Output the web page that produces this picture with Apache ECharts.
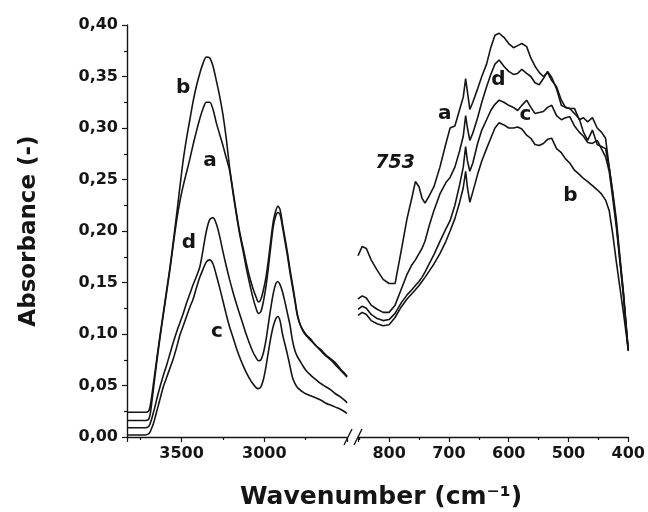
<!DOCTYPE html>
<html>
<head>
<meta charset="utf-8">
<script src="https://cdn.jsdelivr.net/npm/echarts@6/dist/echarts.min.js"></script>
<style>
  html, body { margin: 0; padding: 0; background: #fff; }
  #chart { width: 648px; height: 512px; }
</style>
</head>
<body>
<div id="chart"></div>
<script>
// O-H / C-H stretching region (left panel)
const leftWn = [3830, 3760, 3720, 3700, 3690, 3680, 3670, 3660, 3645, 3630,
  3610, 3590, 3570, 3550, 3530, 3510, 3490, 3470, 3450, 3430,
  3410, 3390, 3370, 3350, 3330, 3310, 3290, 3270, 3250, 3230,
  3210, 3190, 3170, 3150, 3130, 3110, 3090, 3070, 3050, 3035,
  3020, 3005, 2990, 2975, 2960, 2945, 2930, 2918, 2905, 2890,
  2875, 2860, 2845, 2830, 2815, 2800, 2785, 2770, 2750, 2720,
  2690, 2660, 2630, 2600, 2570, 2540, 2510, 2500]
const aLeft = [.016, .016, .016, .017, .022, .034, .047, .060, .079, .097,
  .119, .141, .163, .187, .210, .229, .244, .257, .270, .284,
  .297, .309, .319, .325, .325, .318, .305, .294, .283, .271,
  .259, .238, .217, .198, .182, .165, .150, .136, .125, .120,
  .122, .132, .146, .165, .186, .205, .215, .218, .216, .204,
  .190, .176, .160, .146, .132, .118, .110, .105, .100, .095,
  .089, .084, .079, .075, .070, .065, .060, .058]
const bLeft = [.024, .024, .024, .025, .030, .040, .052, .064, .082, .099,
  .121, .143, .165, .190, .216, .243, .269, .290, .308, .326,
  .341, .353, .363, .369, .368, .360, .346, .331, .313, .290,
  .262, .240, .219, .200, .185, .170, .156, .145, .136, .131,
  .134, .143, .155, .172, .192, .210, .220, .224, .221, .207,
  .193, .179, .163, .149, .134, .119, .110, .104, .099, .094,
  .089, .085, .080, .076, .072, .066, .061, .059]
const cLeft = [.002, .002, .002, .003, .005, .009, .013, .019, .028, .037,
  .049, .058, .067, .076, .087, .099, .108, .117, .126, .134,
  .145, .155, .163, .170, .172, .168, .157, .145, .132, .119,
  .107, .097, .087, .078, .070, .063, .057, .052, .048, .047,
  .049, .056, .068, .083, .097, .108, .115, .117, .113, .100,
  .090, .080, .069, .058, .052, .048, .046, .044, .042, .040,
  .038, .036, .033, .031, .029, .027, .024, .023]
const dLeft = [.009, .009, .009, .010, .013, .018, .024, .030, .040, .049,
  .060, .070, .081, .092, .102, .111, .120, .130, .139, .148,
  .156, .165, .182, .200, .211, .213, .207, .195, .180, .166,
  .153, .141, .130, .120, .110, .100, .091, .083, .077, .074,
  .075, .082, .094, .110, .126, .140, .149, .151, .148, .141,
  .131, .120, .109, .094, .084, .078, .074, .070, .065, .060,
  .056, .052, .049, .046, .042, .039, .035, .033]

// fingerprint region (right panel)
const rightWn = [852, 845, 838, 830, 820, 810, 800, 790, 780, 770,
  762, 756, 750, 745, 740, 733, 725, 715, 705, 698,
  690, 682, 676, 672, 669, 665, 660, 652, 645, 637,
  630, 623, 616, 608, 600, 592, 585, 578, 570, 563,
  556, 549, 542, 535, 528, 520, 512, 505, 498, 490,
  482, 475, 468, 460, 452, 445, 438, 432, 426, 420,
  414, 408, 403, 400]
const aRight = [.176, .185, .183, .172, .162, .153, .149, .149, .180, .212,
  .232, .248, .243, .232, .227, .234, .243, .262, .285, .300,
  .302, .318, .330, .348, .335, .318, .325, .338, .350, .362,
  .378, .390, .392, .388, .382, .378, .380, .382, .379, .368,
  .360, .354, .350, .354, .346, .340, .327, .320, .319, .319,
  .308, .310, .306, .310, .300, .296, .290, .262, .238, .211,
  .175, .140, .105, .084]
const bRight = [.118, .121, .119, .113, .110, .108, .109, .116, .126, .134,
  .139, .143, .147, .151, .155, .161, .168, .178, .190, .200,
  .212, .228, .242, .258, .242, .228, .238, .255, .268, .280,
  .290, .300, .305, .303, .300, .300, .301, .299, .293, .290,
  .284, .283, .285, .289, .290, .280, .276, .270, .266, .259,
  .255, .251, .248, .244, .240, .236, .230, .220, .197, .170,
  .145, .120, .098, .084]
const cRight = [.124, .127, .125, .119, .115, .113, .114, .120, .130, .138,
  .143, .147, .151, .155, .160, .168, .177, .190, .202, .210,
  .225, .245, .262, .282, .268, .258, .266, .285, .298, .308,
  .317, .323, .327, .325, .322, .320, .317, .322, .327, .320,
  .314, .315, .316, .320, .322, .312, .308, .310, .311, .302,
  .296, .292, .286, .285, .288, .280, .272, .258, .232, .204,
  .170, .136, .102, .084]
const dRight = [.134, .137, .135, .128, .124, .121, .121, .128, .143, .158,
  .167, .172, .178, .183, .190, .205, .220, .236, .247, .252,
  .262, .278, .292, .312, .300, .288, .295, .310, .325, .340,
  .352, .362, .366, .360, .355, .352, .353, .357, .353, .350,
  .344, .342, .348, .355, .349, .338, .322, .320, .319, .314,
  .309, .296, .288, .298, .284, .282, .280, .262, .236, .207,
  .172, .138, .103, .084]

const leftTicks = [3500, 3000]
const rightTicks = [800, 700, 600, 500, 400]

// curve tags: [text, grid, wavenumber, absorbance]
const tags = [
  ["b", 0, 3491, 0.339], ["a", 0, 3328, 0.268], ["d", 0, 3455, 0.189], ["c", 0, 3286, 0.102],
  ["753", 1, 790, 0.266], ["a", 1, 707, 0.314], ["d", 1, 617, 0.347],
  ["c", 1, 572, 0.313], ["b", 1, 497, 0.234]
]

const FONT = "DejaVu Sans"
const INK = "#151515"
const TOP = 25, BOTTOM = 75
const LEFT_L = 127, LEFT_W = 220
const RIGHT_L = 358, RIGHT_W = 271
const AXIS_Y = 512 - BOTTOM

const zip = (xs, ys) => xs.map((x, i) => [x, ys[i]])
const fmtY = v => v.toFixed(2).replace(".", ",")

const axisLine = { show: true, lineStyle: { color: INK, width: 1.4 } }
const tickLabel = { color: INK, fontFamily: FONT, fontWeight: "bold", fontSize: 16 }

const xBase = (grid, min, max, interval, ticks) => ({
  gridIndex: grid,
  type: "value",
  inverse: true,
  min, max, interval,
  axisLine,
  axisTick: { show: true, length: 5, lineStyle: { color: INK, width: 1.2 } },
  minorTick: { show: true, splitNumber: 2, length: 3, lineStyle: { color: INK, width: 1.2 } },
  splitLine: { show: false },
  axisLabel: {
    ...tickLabel,
    margin: 9,
    showMinLabel: ticks.includes(min),
    showMaxLabel: false,
    formatter: v => (ticks.includes(v) ? String(v) : "")
  }
})

const line = (name, grid, xs, ys, smooth) => ({
  name,
  type: "line",
  xAxisIndex: grid,
  yAxisIndex: grid,
  data: zip(xs, ys),
  symbol: "none",
  smooth,
  lineStyle: { color: INK, width: 1.6 },
  silent: true
})

const chart = echarts.init(document.getElementById("chart"), null, { renderer: "canvas" })

chart.setOption({
  animation: false,
  backgroundColor: "#fff",
  textStyle: { fontFamily: FONT },
  grid: [
    { left: LEFT_L, top: TOP, width: LEFT_W, bottom: BOTTOM },
    { left: RIGHT_L, top: TOP, width: RIGHT_W, bottom: BOTTOM }
  ],
  xAxis: [
    xBase(0, 2500, 3830, 500, leftTicks),
    xBase(1, 400, 852, 100, rightTicks)
  ],
  yAxis: [
    {
      gridIndex: 0,
      type: "value",
      min: 0, max: 0.4, interval: 0.05,
      axisLine,
      axisTick: { show: true, length: 5, lineStyle: { color: INK, width: 1.2 } },
      minorTick: { show: true, splitNumber: 2, length: 3, lineStyle: { color: INK, width: 1.2 } },
      splitLine: { show: false },
      axisLabel: { ...tickLabel, margin: 9, formatter: fmtY },
      name: "Absorbance (-)",
      nameLocation: "middle",
      nameGap: 86,
      nameTextStyle: { color: INK, fontFamily: FONT, fontWeight: "bold", fontSize: 23 }
    },
    { gridIndex: 1, type: "value", min: 0, max: 0.4, show: false }
  ],
  series: [
    line("a", 0, leftWn, aLeft, 0.3),
    line("b", 0, leftWn, bLeft, 0.3),
    line("c", 0, leftWn, cLeft, 0.3),
    line("d", 0, leftWn, dLeft, 0.3),
    line("a", 1, rightWn, aRight, false),
    line("b", 1, rightWn, bRight, false),
    line("c", 1, rightWn, cRight, false),
    line("d", 1, rightWn, dRight, false)
  ]
})

// axis break marks, x title and curve tags
const breakX = [LEFT_L + LEFT_W + 1, RIGHT_L]
const graphics = breakX.map(cx => ({
  type: "line",
  shape: { x1: cx - 4, y1: AXIS_Y + 8, x2: cx + 4, y2: AXIS_Y - 8 },
  style: { stroke: INK, lineWidth: 1.4 },
  silent: true
}))

graphics.push({
  type: "text",
  x: 381,
  y: 497,
  style: {
    text: "Wavenumber (cm\u207B\u00B9)",
    fill: INK,
    font: `bold 25px "${FONT}"`,
    align: "center",
    verticalAlign: "middle"
  },
  silent: true
})

tags.forEach(([text, grid, x, y]) => {
  const [px, py] = chart.convertToPixel({ gridIndex: grid }, [x, y])
  const italic = text === "753"
  graphics.push({
    type: "text",
    x: px,
    y: py,
    style: {
      text,
      fill: INK,
      font: `${italic ? "italic " : ""}bold ${italic ? 19 : 20}px "${FONT}"`,
      align: "center",
      verticalAlign: "middle"
    },
    silent: true
  })
})

chart.setOption({ graphic: graphics })
</script>
</body>
</html>
